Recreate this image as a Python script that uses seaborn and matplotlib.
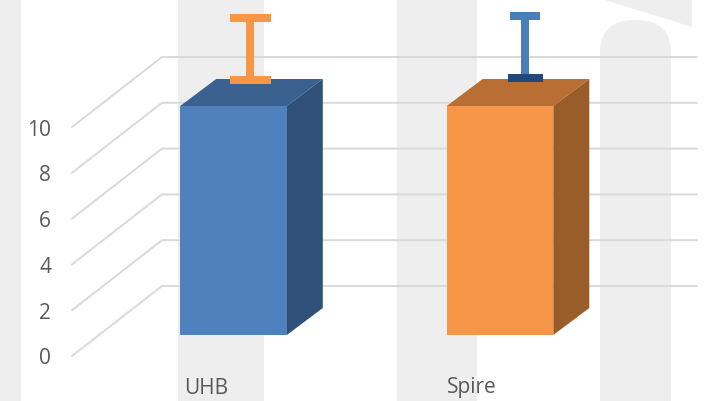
import matplotlib
matplotlib.use("Agg")
import matplotlib.pyplot as plt
from matplotlib.patches import Polygon, FancyBboxPatch
import pandas as pd
import seaborn as sns

categories = ["UHB", "Spire"]
values = [10, 10]
err_low = [11.15, 11.22]
err_high = [13.85, 13.95]
y_ticks = [0, 2, 4, 6, 8, 10]

front_colors = ["#4f81bd", "#f79646"]
top_colors = ["#3a6190", "#b96f33"]
side_colors = ["#2f5078", "#995d29"]
err_colors = ["#f79646", "#4a7ebb"]
low_cap_colors = ["#f79646", "#1f497d"]

# pixel layout of the slide, turned into data units
PX_X = 266.5
PX_Y = 22.9
X0 = 233.5
Y0 = 335
DX = 36 / PX_X
DY = 27 / PX_Y


def to_x(px):
    return (px - X0) / PX_X


def to_y(px):
    return (Y0 - px) / PX_Y


def project(x, v, depth):
    return x + depth * DX, v + depth * DY


sns.set_theme(style="white")
plt.rcParams["font.family"] = ["Open Sans", "DejaVu Sans"]
fig = plt.figure(figsize=(7.12, 4.01), dpi=100)
ax = fig.add_axes([0, 0, 1, 1])
df = pd.DataFrame({"name": categories, "value": values})
sns.barplot(data=df, x="name", y="value", hue="name", palette=front_colors,
            width=0.4, legend=False, saturation=1, linewidth=0, ax=ax, zorder=4)
ax.set_xlim(to_x(0), to_x(712))
ax.set_ylim(to_y(401), to_y(0))
ax.axis("off")

# watermark behind the chart
wm = "#eeeeee"
for left, right in [(0, 21), (178, 264), (397, 477)]:
    ax.axvspan(to_x(left), to_x(right), color=wm, lw=0, zorder=0)
arch = FancyBboxPatch((to_x(600), to_y(440)), to_x(671) - to_x(600), to_y(20) - to_y(440),
                      boxstyle="round,pad=0,rounding_size=0.13", mutation_aspect=11,
                      fc=wm, ec="none", zorder=0)
ax.add_patch(arch)
ax.add_patch(Polygon([(to_x(605), to_y(0)), (to_x(692), to_y(27)), (to_x(692), to_y(0))],
                     fc=wm, ec="none", zorder=0))

# walls: back gridlines and the diagonal floor lines
grid = "#d9d9d9"
back_depth = 49 / 27
front_depth = -21 / 27
for t in y_ticks:
    x1, y1 = project(to_x(72) - front_depth * DX, t, front_depth)
    x2, y2 = project(to_x(162) - back_depth * DX, t, back_depth)
    x3, _ = project(to_x(697) - back_depth * DX, t, back_depth)
    ax.plot([x1, x2, x3], [y1, y2, y2], color=grid, lw=1.4, zorder=1)
    ax.text(to_x(51), y1 - 3 / PX_Y, str(t), ha="right", va="center", fontsize=15, color="#595959")

# side and top faces of each box
for bar, top_c, side_c in zip(ax.patches[:2], top_colors, side_colors):
    left, right = bar.get_x(), bar.get_x() + bar.get_width()
    h = bar.get_height()
    top = [project(left, h, 0), project(right, h, 0), project(right, h, 1), project(left, h, 1)]
    side = [project(right, 0, 0), project(right, h, 0), project(right, h, 1), project(right, 0, 1)]
    ax.add_patch(Polygon(top, fc=top_c, ec="none", zorder=3))
    ax.add_patch(Polygon(side, fc=side_c, ec="none", zorder=3))

# error bars sit on the middle of the box top
err_x = [to_x(250), to_x(525)]
cap_px = [(41, 41), (35, 30)]
for i in range(2):
    mid = (err_low[i] + err_high[i]) / 2
    line, caps, bars = ax.errorbar(err_x[i], mid, yerr=(err_high[i] - err_low[i]) / 2,
                                   color=err_colors[i], elinewidth=5.76, capthick=5.76,
                                   capsize=cap_px[i][1] * 0.36, zorder=6, fmt="none")
    caps[0].set_markersize(cap_px[i][0] * 0.72)
    caps[0].set_markeredgecolor(low_cap_colors[i])
    caps[0].set_zorder(7)

for i, name in enumerate(categories):
    ax.text(to_x([184, 447][i]), to_y(388), name, ha="left", va="center",
            fontsize=15, color="#595959")

fig.savefig("out.png", dpi=100)
